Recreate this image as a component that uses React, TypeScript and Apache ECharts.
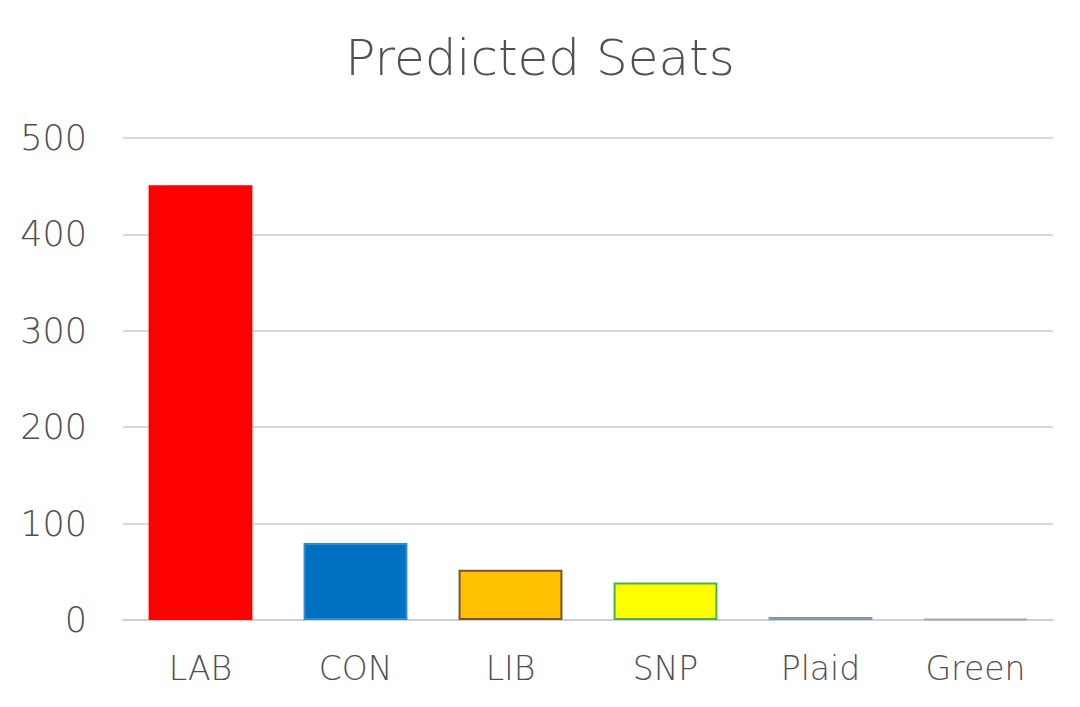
import React, { useEffect, useRef } from "react";
import * as echarts from "echarts";

const categories = ["LAB", "CON", "LIB", "SNP", "Plaid", "Green"];
const seats = [451, 80, 52, 39, 3, 1];
const fillColors = ["#ff0000", "#0070c0", "#ffc000", "#ffff00", "#8497b0", "#a6a6a6"];
const borderColors = ["#ff0000", "#2e8bd0", "#7a5230", "#4cb050", "#8497b0", "#a6a6a6"];
const yTicks = { min: 0, max: 500, interval: 100 };

const FONT = "'DejaVu Sans', sans-serif";

export default function App() {
  const ref = useRef<HTMLDivElement>(null);
  useEffect(() => {
    document.body.style.margin = "0";
    const chart = echarts.init(ref.current!, null, { renderer: "svg" });
    chart.setOption({
      animation: false,
      backgroundColor: "#ffffff",
      title: {
        text: "Predicted Seats",
        left: "center",
        top: 28,
        textStyle: { fontFamily: FONT, fontSize: 50, fontWeight: 200, color: "#505050" },
      },
      grid: { left: 123, right: 27, top: 138, bottom: 87 },
      xAxis: {
        type: "category",
        data: categories,
        axisTick: { show: false },
        axisLine: { lineStyle: { color: "#d0d0d0", width: 2 } },
        axisLabel: { fontFamily: FONT, fontSize: 33, fontWeight: 200, color: "#505050", margin: 32 },
      },
      yAxis: {
        type: "value",
        min: yTicks.min,
        max: yTicks.max,
        interval: yTicks.interval,
        axisLine: { show: false },
        axisTick: { show: false },
        splitLine: { lineStyle: { color: "#d9d9d9", width: 2 } },
        axisLabel: { fontFamily: FONT, fontSize: 35, fontWeight: 200, color: "#505050", margin: 36 },
      },
      series: [
        {
          type: "bar",
          barCategoryGap: "33%",
          data: seats.map((v, i) => ({
            value: v,
            itemStyle: { color: fillColors[i], borderColor: borderColors[i], borderWidth: 2 },
          })),
        },
      ],
    });
    return () => chart.dispose();
  }, []);
  return <div ref={ref} style={{ width: 1080, height: 707 }} />;
}
